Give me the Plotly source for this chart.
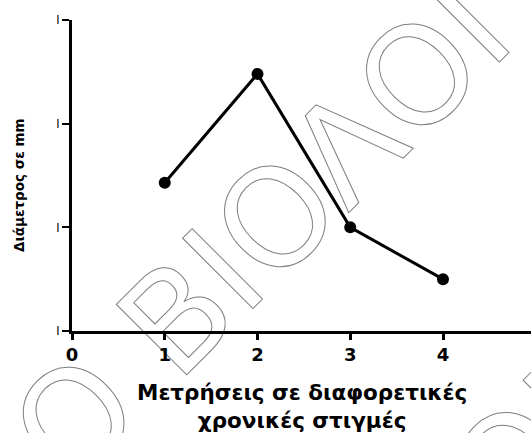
import base64
import plotly.graph_objects as go

# measurement times and diameter (mm)
times = [1, 2, 3, 4]
diameters = [1.43, 2.48, 1.0, 0.5]

y_ticks = [0, 1, 2, 3]
y_ticktext = ['I', 'I', 'I', 'I']
x_ticks = [0, 1, 2, 3, 4, 5]

x_title = '<b>Μετρήσεις σε διαφορετικές<br>χρονικές στιγμές</b>'
y_title = '<b>Διάμετρος σε mm</b>'
watermark = 'Ο ΒΙΟΛΟΓΙΑ'

W, H = 531, 433
L, R, T, B = 72, 0, 20, 102
pw, ph = W - L - R, H - T - B


def px_to_paper(px, py):
    return (px - L) / pw, (H - B - py) / ph


# outlined watermark text, drawn under the plot as an svg image
svg = f'''<svg xmlns="http://www.w3.org/2000/svg" width="{W}" height="{H}" viewBox="0 0 {W} {H}" preserveAspectRatio="none">
<g font-family="DejaVu Sans" font-size="136.5" fill="none" stroke="#808080" stroke-width="1">
<text x="70.7" y="490.8" transform="rotate(-45 70.7 490.8)">{watermark}</text>
<text x="164.7" y="879.3" transform="rotate(-45 164.7 879.3)">{watermark}</text>
</g></svg>'''
svg_uri = 'data:image/svg+xml;base64,' + base64.b64encode(svg.encode('utf-8')).decode()

fig = go.Figure()

fig.add_scatter(x=times,
                y=diameters,
                mode='lines+markers',
                line=dict(color='black', width=3),
                marker=dict(color='black', size=12),
                showlegend=False)

x0, y0 = px_to_paper(0, 0)
fig.add_layout_image(source=svg_uri,
                     xref='paper', yref='paper',
                     x=x0, y=y0,
                     sizex=W / pw, sizey=H / ph,
                     xanchor='left', yanchor='top',
                     sizing='stretch',
                     layer='below')

ax, ay = px_to_paper(302, 406)
fig.add_annotation(text=x_title,
                   xref='paper', yref='paper',
                   x=ax, y=ay,
                   showarrow=False,
                   xanchor='center', yanchor='middle',
                   font=dict(family='DejaVu Sans', size=21.5, color='black'))

bx, by = px_to_paper(19, 185)
fig.add_annotation(text=y_title,
                   xref='paper', yref='paper',
                   x=bx, y=by,
                   textangle=-90,
                   showarrow=False,
                   xanchor='center', yanchor='middle',
                   font=dict(family='DejaVu Sans', size=13.5, color='black'))

fig.update_xaxes(range=[0, pw / 92.75],
                 tickvals=x_ticks,
                 showgrid=False,
                 zeroline=False,
                 showline=True,
                 linecolor='black',
                 linewidth=2.5,
                 ticks='outside',
                 ticklen=6,
                 tickwidth=3,
                 tickcolor='black',
                 tickfont=dict(family='DejaVu Sans', size=18, color='black', weight='bold'))

fig.update_yaxes(range=[0, 3],
                 tickvals=y_ticks,
                 ticktext=y_ticktext,
                 showgrid=False,
                 zeroline=False,
                 showline=True,
                 linecolor='black',
                 linewidth=3,
                 ticks='outside',
                 ticklen=7,
                 tickwidth=2,
                 tickcolor='black',
                 tickfont=dict(family='Liberation Sans', size=12, color='black'))

fig.update_layout(width=W, height=H,
                  margin=dict(l=L, r=R, t=T, b=B),
                  paper_bgcolor='white',
                  plot_bgcolor='rgba(0,0,0,0)')

# drop the default page margin so the figure sits at the window corner
fig.write_html('out.html',
               config={'displayModeBar': False},
               post_script="document.body.style.margin='0';")
